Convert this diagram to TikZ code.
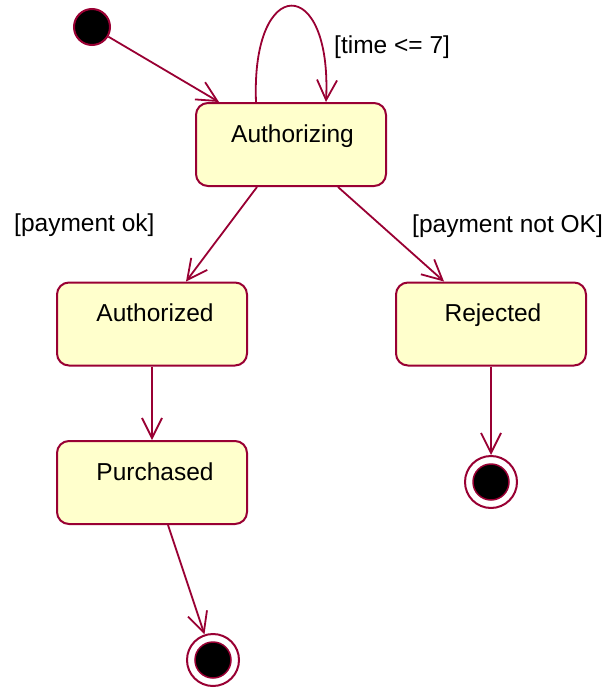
\documentclass[tikz,border=0pt]{standalone}
\usepackage{fontspec}
\setmainfont{Liberation Sans}
\usetikzlibrary{arrows.meta}
\definecolor{edge}{RGB}{153,0,51}
\definecolor{statefill}{RGB}{255,255,204}
\begin{document}
\begin{tikzpicture}[x=1pt,y=-1pt,
  every node/.style={font=\fontsize{24.5}{28}\selectfont},
  statebox/.style={draw=edge, fill=statefill, line width=2pt, rounded corners=12pt,
    minimum width=190pt, minimum height=83pt, inner sep=0pt},
  statename/.style={anchor=base, inner sep=0pt},
  initial/.style={circle, draw=edge, fill=black, line width=2pt, minimum size=36pt, inner sep=0pt},
  final/.style={circle, draw=edge, fill=white, line width=2pt, minimum size=52pt, inner sep=0pt},
  trans/.style={draw=edge, line width=1.8pt, -{Straight Barb[length=20pt,width=20pt,line width=1.8pt]}},
  guard/.style={anchor=base west, inner sep=0pt}]
\useasboundingbox (0,0) rectangle (607,688);

% states
\node[initial] (init) at (92,27) {};
\node[statebox] (auth)  at (291,144.5) {};
\node[statebox] (authd) at (152,324) {};
\node[statebox] (rej)   at (491,324) {};
\node[statebox] (purch) at (152,482.5) {};
\node[final] (fin1) at (213,660) {};
\node[final] (fin2) at (491,482) {};
\fill[black, draw=edge, line width=1.5pt] (fin1) circle (18pt);
\fill[black, draw=edge, line width=1.5pt] (fin2) circle (18pt);

% state names, baseline 40 below the top edge
\node[statename] (tauth)  at ([xshift=1.5pt,yshift=-40pt]auth.north)  {Authorizing};
\node[statename] (tauthd) at ([xshift=3pt,yshift=-40pt]authd.north) {Authorized};
\node[statename] (trej)   at ([xshift=2pt,yshift=-40pt]rej.north)     {Rejected};
\node[statename] (tpurch) at ([xshift=3pt,yshift=-40pt]purch.north) {Purchased};

% transitions
\draw[trans] (init) -- ([xshift=24pt]auth.north west);
\draw[trans] ([xshift=61pt]auth.north west) .. controls +(-5,-128) and +(6,-128) .. ([xshift=131pt]auth.north west);
\draw[trans] ([xshift=62pt]auth.south west) -- ([xshift=130pt]authd.north west);
\draw[trans] ([xshift=143pt]auth.south west) -- ([xshift=49pt]rej.north west);
\draw[trans] (authd.south) -- (purch.north);
\draw[trans] ([xshift=112pt]purch.south west) -- (fin1);
\draw[trans] (rej.south) -- (fin2);

% guards
\node[guard] (g1) at (334,53)  {[time <= 7]};
\node[guard] (g2) at (14,231)  {[payment ok]};
\node[guard] (g3) at (412,232) {[payment not OK]};
\end{tikzpicture}
\end{document}
